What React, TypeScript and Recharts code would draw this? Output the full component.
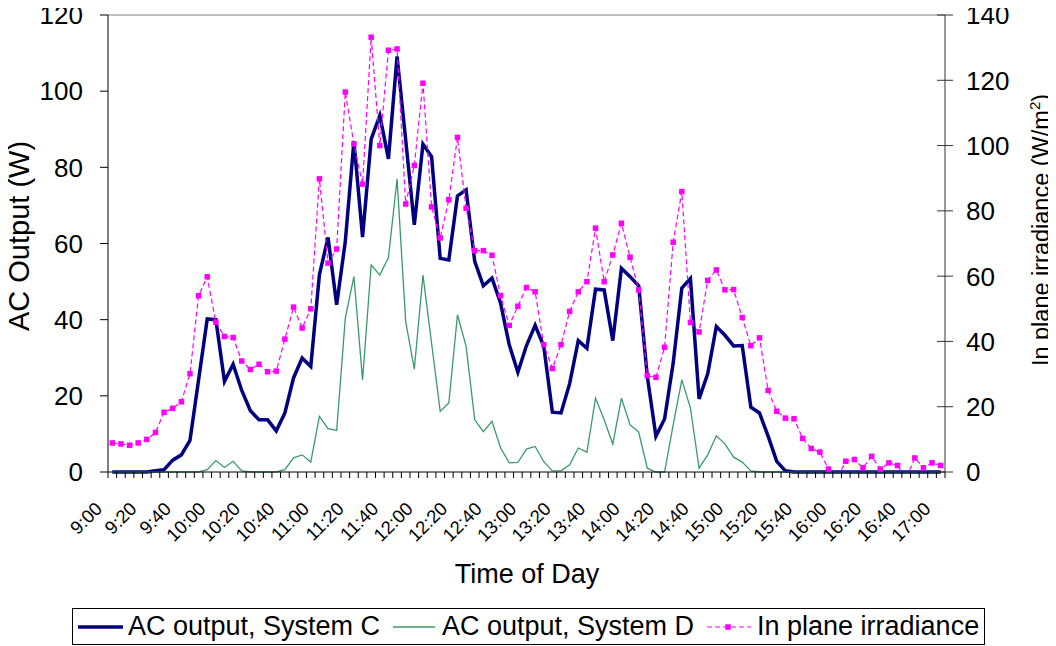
import { Line, LineChart, ReferenceLine, XAxis, YAxis } from 'recharts';

// 5-minute readings, 9:00 to 17:00
const times: string[] = [];
for (let m = 9 * 60; m <= 17 * 60; m += 5) {
  times.push(`${Math.floor(m / 60)}:${String(m % 60).padStart(2, '0')}`);
}

const systemC = [
  0, 0, 0, 0, 0, 0.3, 0.6, 3.1, 4.5, 8.3,
  24.2, 40.2, 40.0, 23.8, 28.3, 21.4, 16.1, 13.7, 13.7, 10.8,
  15.5, 24.7, 29.9, 27.7, 51.8, 61.6, 43.9, 60.5, 86.8, 61.7,
  87.4, 93.6, 82.2, 109.1, 87.2, 64.9, 86.1, 82.8, 56.1, 55.7,
  72.5, 74.1, 55.3, 48.9, 50.9, 44.3, 33.4, 26.2, 33.2, 38.5,
  33.0, 15.7, 15.5, 23.2, 34.5, 32.5, 48.0, 47.8, 34.5, 53.5,
  51.3, 48.9, 25.1, 9.4, 13.9, 28.6, 48.3, 50.8, 19.2, 25.8,
  38.2, 35.9, 33.1, 33.2, 17.0, 15.5, 9.4, 2.8, 0.3, 0,
  0, 0, 0, 0, 0, 0, 0, 0, 0, 0,
  0, 0, 0, 0, 0, 0, 0,
];

const systemD = [
  0, 0, 0, 0, 0, 0, 0, 0, 0, 0,
  0, 0.6, 3.0, 1.2, 2.8, 0.3, 0, 0, 0, 0,
  0.6, 3.7, 4.5, 2.6, 14.6, 11.4, 10.9, 40.4, 51.3, 24.2,
  54.4, 51.7, 56.3, 76.9, 39.5, 27.0, 51.7, 33.8, 15.9, 18.1,
  41.3, 33.0, 13.7, 10.6, 13.3, 6.3, 2.4, 2.5, 6.0, 6.7,
  2.7, 0.3, 0.3, 1.9, 6.3, 5.2, 19.4, 13.7, 7.3, 19.4,
  12.4, 10.5, 1.0, 0, 0, 12.4, 24.2, 16.8, 1.0, 4.5,
  9.5, 7.4, 3.9, 2.6, 0.3, 0, 0, 0, 0, 0,
  0, 0, 0, 0, 0, 0, 0, 0, 0, 0,
  0, 0, 0, 0, 0, 0, 0,
];

const irradiance = [
  8.9, 8.6, 8.2, 8.9, 10.0, 12.1, 18.3, 19.5, 21.5, 30.1,
  54.0, 59.8, 45.9, 41.5, 41.2, 34.0, 31.4, 33.0, 30.7, 30.9,
  40.7, 50.5, 44.1, 50.0, 89.8, 64.0, 68.3, 116.4, 100.5, 88.2,
  133.2, 100.0, 129.2, 129.6, 82.1, 93.9, 119.1, 81.2, 71.7, 83.4,
  102.5, 80.8, 67.8, 67.8, 66.4, 54.0, 44.9, 50.8, 56.5, 55.2,
  39.0, 31.7, 39.0, 49.2, 55.2, 58.3, 74.7, 58.3, 66.5, 76.2,
  65.8, 55.8, 29.5, 29.0, 38.2, 70.4, 85.9, 45.8, 42.9, 58.7,
  61.9, 55.8, 55.9, 47.3, 38.7, 41.1, 25.0, 18.6, 16.5, 16.3,
  10.3, 7.2, 6.1, 0.9, -2, 3.3, 3.8, 1.3, 4.8, 0.9,
  2.8, 2.0, -2, 4.3, 1.3, 2.8, 2.0,
];

const leftTicks = [0, 20, 40, 60, 80, 100, 120];
const rightTicks = [0, 20, 40, 60, 80, 100, 120, 140];

const data = times.map((t, i) => ({
  time: t,
  c: systemC[i],
  d: systemD[i],
  irr: irradiance[i],
}));

const FONT = '"Liberation Sans", Arial, sans-serif';
const W = 1056;
const H = 608;
const PLOT_TOP = 15;
const PLOT_LEFT = 108;
const PLOT_RIGHT = 945;
const PLOT_BOTTOM = 472;
const HALF = (PLOT_RIGHT - PLOT_LEFT) / times.length / 2;

const NAVY = '#000080';
const GREEN = '#3a9a6a';
const MAGENTA = '#ff00ff';

function XTick(props: any) {
  const { x, index, payload } = props;
  const last = index === times.length - 1;
  const ax = x - 9;
  const ay = PLOT_BOTTOM + 38;
  return (
    <g>
      <line x1={x - HALF} x2={x - HALF} y1={PLOT_BOTTOM} y2={PLOT_BOTTOM + 6} stroke="#000" />
      {last && (
        <line x1={x + HALF} x2={x + HALF} y1={PLOT_BOTTOM} y2={PLOT_BOTTOM + 6} stroke="#000" />
      )}
      {index % 4 === 0 && (
        <text
          x={ax}
          y={ay}
          transform={`rotate(-45, ${ax}, ${ay})`}
          textAnchor="end"
          fontSize={18.5}
          fontFamily={FONT}
          fill="#000"
        >
          {payload.value}
        </text>
      )}
    </g>
  );
}

function RightTick(props: any) {
  const { y, payload } = props;
  return (
    <g>
      <line x1={PLOT_RIGHT - 8} x2={PLOT_RIGHT + 8} y1={y} y2={y} stroke="#333" />
      <text x={966} y={y} dy="0.36em" fontSize={26} fontFamily={FONT} fill="#000">
        {payload.value}
      </text>
    </g>
  );
}

function LeftTitle() {
  return (
    <text
      x={29}
      y={236}
      transform="rotate(-90, 29, 236)"
      textAnchor="middle"
      fontSize={29}
      fontFamily={FONT}
      fill="#000"
    >
      AC Output (W)
    </text>
  );
}

function RightTitle() {
  return (
    <text
      x={1049}
      y={230}
      transform="rotate(-90, 1049, 230)"
      textAnchor="middle"
      fontSize={23.5}
      fontFamily={FONT}
      fill="#000"
    >
      In plane irradiance (W/m
      <tspan dy={-9} fontSize={15}>2</tspan>
      <tspan dy={9}>)</tspan>
    </text>
  );
}

function BottomTitle() {
  return (
    <text x={527} y={583} textAnchor="middle" fontSize={27} fontFamily={FONT} fill="#000">
      Time of Day
    </text>
  );
}

function SquareDot(p: any) {
  if (p.cx == null || p.cy == null) return <g key={p.index} />;
  return (
    <rect key={p.index} x={p.cx - 2.75} y={p.cy - 2.75} width={5.5} height={5.5} fill={MAGENTA} />
  );
}

function Legend() {
  const text: React.CSSProperties = {
    position: 'absolute',
    top: 0,
    lineHeight: '35px',
    fontSize: 27,
    fontFamily: FONT,
    color: '#000',
    whiteSpace: 'nowrap',
  };
  return (
    <div
      style={{
        position: 'absolute',
        left: 72,
        top: 608,
        width: 911,
        height: 35,
        border: '1px solid #000',
        background: '#fff',
      }}
    >
      <svg width={913} height={35} style={{ position: 'absolute', left: 0, top: 0 }}>
        <line x1={5} x2={50} y1={18} y2={18} stroke={NAVY} strokeWidth={3.5} />
        <line x1={320} x2={362} y1={18} y2={18} stroke={GREEN} strokeWidth={1.3} />
        <line x1={634} x2={678} y1={18} y2={18} stroke={MAGENTA} strokeWidth={1.2} strokeDasharray="5 3" />
        <rect x={652.25} y={15.25} width={5.5} height={5.5} fill={MAGENTA} />
      </svg>
      <span style={{ ...text, left: 55 }}>AC output, System C</span>
      <span style={{ ...text, left: 369 }}>AC output, System D</span>
      <span style={{ ...text, left: 684 }}>In plane irradiance</span>
    </div>
  );
}

export default function App() {
  // pull the chart over the body margin so it fills the page
  return (
    <div
      style={{
        position: 'relative',
        marginTop: -8,
        marginLeft: -8,
        width: W,
        height: 646,
        background: '#fff',
      }}
    >
      <LineChart
        width={W}
        height={H}
        data={data}
        margin={{ top: PLOT_TOP, right: 0, bottom: 0, left: 0 }}
      >
        <XAxis
          dataKey="time"
          interval={0}
          padding={{ left: HALF, right: HALF }}
          height={H - PLOT_BOTTOM}
          tickLine={false}
          axisLine={{ stroke: '#000' }}
          tick={(p: any) => <XTick {...p} />}
          label={<BottomTitle />}
        />
        <YAxis
          yAxisId="left"
          width={PLOT_LEFT}
          domain={[0, 120]}
          ticks={leftTicks}
          interval={0}
          tickSize={8}
          tickMargin={17}
          tickLine={{ stroke: '#000' }}
          axisLine={{ stroke: '#000' }}
          tick={{ fill: '#000', fontSize: 26, fontFamily: FONT }}
          label={<LeftTitle />}
        />
        <YAxis
          yAxisId="right"
          orientation="right"
          width={W - PLOT_RIGHT}
          domain={[0, 140]}
          ticks={rightTicks}
          interval={0}
          allowDataOverflow
          tickLine={false}
          axisLine={{ stroke: '#333' }}
          tick={(p: any) => <RightTick {...p} />}
          label={<RightTitle />}
        />
        <ReferenceLine yAxisId="left" y={120} stroke="#808080" />
        <Line
          yAxisId="left"
          type="linear"
          dataKey="c"
          stroke={NAVY}
          strokeWidth={3.5}
          dot={false}
          isAnimationActive={false}
        />
        <Line
          yAxisId="left"
          type="linear"
          dataKey="d"
          stroke={GREEN}
          strokeWidth={1.3}
          dot={false}
          isAnimationActive={false}
        />
        <Line
          yAxisId="right"
          type="linear"
          dataKey="irr"
          stroke={MAGENTA}
          strokeWidth={1.2}
          strokeDasharray="5 3"
          dot={(p: any) => <SquareDot key={p.index} {...p} />}
          isAnimationActive={false}
        />
      </LineChart>
      <Legend />
    </div>
  );
}
